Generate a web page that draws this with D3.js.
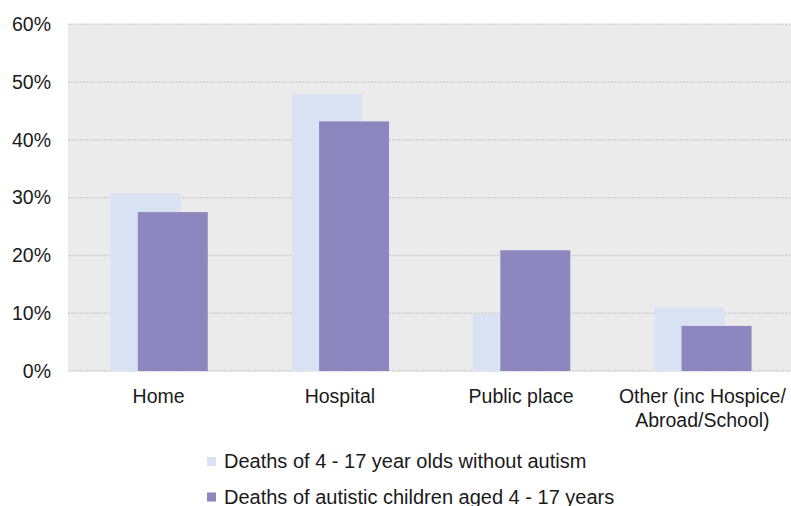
<!DOCTYPE html>
<html>
<head>
<meta charset="utf-8">
<script src="https://cdn.jsdelivr.net/npm/d3@7"></script>
<style>
  html, body { margin: 0; padding: 0; background: #fff; }
  svg { display: block; font-family: "Liberation Sans", Arial, sans-serif; }
</style>
</head>
<body>
<svg id="chart" width="791" height="506"></svg>
<script>
const categories = ["Home", "Hospital", "Public place", "Other (inc Hospice/\nAbroad/School)"];
const seriesNames = ["Deaths of 4 - 17 year olds without autism", "Deaths of autistic children aged 4 - 17 years"];
const withoutAutism = [0.307, 0.479, 0.098, 0.110];
const autistic = [0.275, 0.432, 0.209, 0.078];
const yTicks = [0, 0.1, 0.2, 0.3, 0.4, 0.5, 0.6];
const colors = ["#d9e2f3", "#8e86be"];

(function () {
const svg = d3.select("#chart");
const pl = 68, pr = 791, pt = 24.3, pb = 371;

const x = d3.scaleBand().domain(categories).range([pl, pl + 725]).padding(0);
const y = d3.scaleLinear().domain([0, 0.6]).range([pb, pt]);

svg.append("rect").attr("x", pl).attr("y", pt).attr("width", pr - pl).attr("height", pb - pt).attr("fill", "#ebebeb");

// gridlines
svg.append("g").selectAll("line").data(yTicks).join("line")
  .attr("x1", pl).attr("x2", pr)
  .attr("y1", d => y(d)).attr("y2", d => y(d))
  .attr("stroke", "#d0d0d0").attr("stroke-width", 1.5).attr("stroke-dasharray", "2,1");

// y axis labels
const yAxis = d3.axisLeft(y).tickValues(yTicks).tickFormat(d3.format(".0%")).tickSize(0).tickPadding(17);
const ya = svg.append("g").attr("transform", `translate(${pl},0)`).call(yAxis);
ya.select(".domain").remove();
ya.selectAll("text").attr("font-size", 19.5).attr("fill", "#1a1a1a").attr("font-family", "Liberation Sans, Arial, sans-serif");

const bw = x.bandwidth();
const barW = bw * 0.386;
const offset = bw * 0.15;

// light bars (behind)
svg.append("g").selectAll("rect").data(categories).join("rect")
  .attr("x", (d) => x(d) + bw / 2 - 48)
  .attr("width", barW)
  .attr("y", (d, i) => y(withoutAutism[i]))
  .attr("height", (d, i) => y(0) - y(withoutAutism[i]))
  .attr("fill", colors[0]);

svg.append("g").selectAll("rect").data(categories).join("rect")
  .attr("x", (d) => x(d) + bw / 2 - 48 + offset)
  .attr("width", barW)
  .attr("y", (d, i) => y(autistic[i]))
  .attr("height", (d, i) => y(0) - y(autistic[i]))
  .attr("fill", colors[1]);

// category labels
const xl = svg.append("g");
categories.forEach(c => {
  const lines = c.split("\n");
  const t = xl.append("text").attr("text-anchor", "middle").attr("font-size", 19.5).attr("fill", "#1a1a1a")
    .attr("x", x(c) + bw / 2).attr("y", 403);
  lines.forEach((ln, k) => {
    t.append("tspan").attr("x", x(c) + bw / 2).attr("dy", k === 0 ? 0 : 24.3).text(ln);
  });
});

// legend
const lg = svg.append("g");
seriesNames.forEach((s, i) => {
  const base = 468 + i * 35.5;
  lg.append("rect").attr("x", 207).attr("y", base - 11).attr("width", 9).attr("height", 9).attr("fill", colors[i]);
  lg.append("text").attr("x", 224).attr("y", base).attr("font-size", 20).attr("fill", "#1a1a1a").text(s);
});
})();
</script>
</body>
</html>
